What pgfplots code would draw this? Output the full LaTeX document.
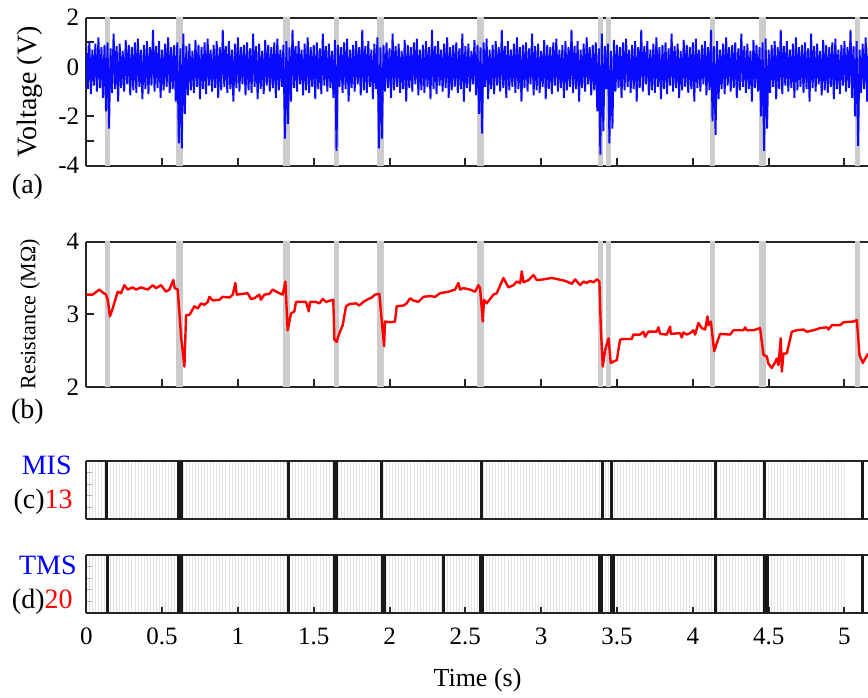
\documentclass[border=0pt]{standalone}
\usepackage{fontspec}
\setmainfont{Liberation Serif}
\usepackage{pgfplots}
\pgfplotsset{compat=1.18}
\definecolor{noiseblue}{RGB}{10,10,255}
\definecolor{resred}{RGB}{255,0,0}
\newcommand\band[2]{\addplot[fill=gray!40, draw=none, forget plot] coordinates {(#1,-100) (#2,-100) (#2,100) (#1,100)} -- cycle;}
\newcommand\allbands{%
\band{0.125}{0.157}\band{0.592}{0.638}\band{1.297}{1.344}\band{1.634}{1.667}%
\band{1.918}{1.964}\band{2.575}{2.623}\band{3.375}{3.408}\band{3.428}{3.461}%
\band{4.114}{4.147}\band{4.437}{4.484}\band{5.071}{5.104}}
\pgfplotsset{
  panel/.style={scale only axis, width=391.2pt, xmin=0, xmax=5.16,
    axis y line*=left, tick align=inside, tick pos=left,
    major tick length=4pt, minor tick length=0pt,
    tick style={line width=1pt, black!85},
    axis line style={line width=1pt, black!85},
    xtick={0,0.5,...,5},
    /pgf/number format/assume math mode=true,
    tick label style={font=\fontsize{12.5}{14}\selectfont},
    anchor=north west},
  raster/.style={height=29pt, ymin=0, ymax=1, ytick={0.2,0.4,0.6,0.8}, yticklabels={},
    ytick style={gray!60, line width=0.5pt}, major tick length=3pt,
    xmajorgrids, xminorgrids, minor x tick num=24,
    grid style={gray!22, line width=0.3pt}}
}
\begin{document}
\begin{tikzpicture}
% (a) voltage
\begin{axis}[panel, at={(43.15pt,-8.85pt)}, height=74pt, ymin=-4, ymax=2,
  ytick={-4,-2,0,2}, extra y ticks={-3,1}, extra y tick labels={}, xticklabels={},
  ylabel={Voltage (V)},
  ylabel style={at={(axis description cs:-0.072,0.5)}, anchor=center, font=\fontsize{14}{16}\selectfont}]
\allbands
\addplot[noiseblue, line width=0.95pt, mark=none, line join=miter, miter limit=1] coordinates {
(0.00,0.85)(0.01,-0.9)(0.02,1.05)(0.03,-1.1)(0.04,0.7)(0.05,-0.75)(0.06,0.95)(0.07,-1.0)(0.08,1.2)(0.09,-0.85)
(0.10,0.8)(0.11,-1.25)(0.12,0.9)(0.13,-1.8)(0.14,1.0)(0.15,-2.5)(0.16,0.75)(0.17,-1.05)(0.18,1.35)(0.19,-0.9)
(0.20,0.85)(0.21,-1.4)(0.22,0.95)(0.23,-0.85)(0.24,0.65)(0.25,-1.0)(0.26,1.1)(0.27,-0.7)(0.28,0.9)(0.29,-1.15)
(0.30,0.8)(0.31,-0.95)(0.32,1.0)(0.33,-1.05)(0.34,1.15)(0.35,-0.8)(0.36,0.7)(0.37,-1.3)(0.38,0.9)(0.39,-0.9)
(0.40,1.05)(0.41,-1.1)(0.42,0.8)(0.43,-0.75)(0.44,1.5)(0.45,-1.0)(0.46,0.85)(0.47,-0.85)(0.48,1.05)(0.49,-1.25)
(0.50,0.7)(0.51,-0.95)(0.52,0.95)(0.53,-0.8)(0.54,1.2)(0.55,-1.05)(0.56,0.8)(0.57,-0.9)(0.58,0.9)(0.59,-1.4)
(0.60,1.0)(0.61,-3.1)(0.62,0.75)(0.63,-3.3)(0.64,1.35)(0.65,-1.9)(0.66,0.85)(0.67,-1.15)(0.68,0.95)(0.69,-0.95)
(0.70,0.65)(0.71,-1.05)(0.72,1.1)(0.73,-0.8)(0.74,0.9)(0.75,-1.3)(0.76,0.8)(0.77,-0.9)(0.78,1.0)(0.79,-1.1)
(0.80,1.15)(0.81,-0.75)(0.82,0.7)(0.83,-1.0)(0.84,0.9)(0.85,-0.85)(0.86,1.05)(0.87,-1.25)(0.88,0.8)(0.89,-0.95)
(0.90,1.5)(0.91,-0.8)(0.92,0.85)(0.93,-1.05)(0.94,1.05)(0.95,-0.9)(0.96,0.7)(0.97,-1.4)(0.98,0.95)(0.99,-0.85)
(1.00,1.2)(1.01,-1.0)(1.02,0.8)(1.03,-0.7)(1.04,0.9)(1.05,-1.15)(1.06,1.0)(1.07,-0.95)(1.08,0.75)(1.09,-1.05)
(1.10,1.35)(1.11,-0.8)(1.12,0.85)(1.13,-1.3)(1.14,0.95)(1.15,-0.9)(1.16,0.65)(1.17,-1.1)(1.18,1.1)(1.19,-0.75)
(1.20,0.9)(1.21,-1.0)(1.22,0.8)(1.23,-0.85)(1.24,1.0)(1.25,-1.25)(1.26,1.15)(1.27,-0.95)(1.28,0.7)(1.29,-0.8)
(1.30,0.9)(1.31,-2.9)(1.32,1.05)(1.33,-2.3)(1.34,0.8)(1.35,-1.4)(1.36,1.5)(1.37,-0.85)(1.38,0.85)(1.39,-1.0)
(1.40,1.05)(1.41,-0.7)(1.42,0.7)(1.43,-1.15)(1.44,0.95)(1.45,-0.95)(1.46,1.2)(1.47,-1.05)(1.48,0.8)(1.49,-0.8)
(1.50,0.9)(1.51,-1.3)(1.52,1.0)(1.53,-0.9)(1.54,0.75)(1.55,-1.1)(1.56,1.35)(1.57,-0.75)(1.58,0.85)(1.59,-1.0)
(1.60,0.95)(1.61,-0.85)(1.62,0.65)(1.63,-1.25)(1.64,1.1)(1.65,-3.4)(1.66,0.9)(1.67,-0.8)(1.68,0.8)(1.69,-1.05)
(1.70,1.0)(1.71,-0.9)(1.72,1.15)(1.73,-1.4)(1.74,0.7)(1.75,-0.85)(1.76,0.9)(1.77,-1.0)(1.78,1.05)(1.79,-0.7)
(1.80,0.8)(1.81,-1.15)(1.82,1.5)(1.83,-0.95)(1.84,0.85)(1.85,-1.05)(1.86,1.05)(1.87,-0.8)(1.88,0.7)(1.89,-1.3)
(1.90,0.95)(1.91,-0.9)(1.92,1.2)(1.93,-3.3)(1.94,0.8)(1.95,-2.9)(1.96,0.9)(1.97,-1.0)(1.98,1.0)(1.99,-0.85)
(2.00,0.75)(2.01,-1.25)(2.02,1.35)(2.03,-0.95)(2.04,0.85)(2.05,-0.8)(2.06,0.95)(2.07,-1.05)(2.08,0.65)(2.09,-0.9)
(2.10,1.1)(2.11,-1.4)(2.12,0.9)(2.13,-0.85)(2.14,0.8)(2.15,-1.0)(2.16,1.0)(2.17,-0.7)(2.18,1.15)(2.19,-1.15)
(2.20,0.7)(2.21,-0.95)(2.22,0.9)(2.23,-1.05)(2.24,1.05)(2.25,-0.8)(2.26,0.8)(2.27,-1.3)(2.28,1.5)(2.29,-0.9)
(2.30,0.85)(2.31,-1.1)(2.32,1.05)(2.33,-0.75)(2.34,0.7)(2.35,-1.0)(2.36,0.95)(2.37,-0.85)(2.38,1.2)(2.39,-1.25)
(2.40,0.8)(2.41,-0.95)(2.42,0.9)(2.43,-0.8)(2.44,1.0)(2.45,-1.05)(2.46,0.75)(2.47,-0.9)(2.48,1.35)(2.49,-1.4)
(2.50,0.85)(2.51,-0.85)(2.52,0.95)(2.53,-1.0)(2.54,0.65)(2.55,-0.7)(2.56,1.1)(2.57,-1.15)(2.58,0.9)(2.59,-1.9)
(2.60,0.8)(2.61,-2.7)(2.62,1.0)(2.63,-0.8)(2.64,1.15)(2.65,-1.3)(2.66,0.7)(2.67,-0.9)(2.68,0.9)(2.69,-1.1)
(2.70,1.05)(2.71,-0.75)(2.72,0.8)(2.73,-1.0)(2.74,1.5)(2.75,-0.85)(2.76,0.85)(2.77,-1.25)(2.78,1.05)(2.79,-0.95)
(2.80,0.7)(2.81,-0.8)(2.82,0.95)(2.83,-1.05)(2.84,1.2)(2.85,-0.9)(2.86,0.8)(2.87,-1.4)(2.88,0.9)(2.89,-0.85)
(2.90,1.0)(2.91,-1.0)(2.92,0.75)(2.93,-0.7)(2.94,1.35)(2.95,-1.15)(2.96,0.85)(2.97,-0.95)(2.98,0.95)(2.99,-1.05)
(3.00,0.65)(3.01,-0.8)(3.02,1.1)(3.03,-1.3)(3.04,0.9)(3.05,-0.9)(3.06,0.8)(3.07,-1.1)(3.08,1.0)(3.09,-0.75)
(3.10,1.15)(3.11,-1.0)(3.12,0.7)(3.13,-0.85)(3.14,0.9)(3.15,-1.25)(3.16,1.05)(3.17,-0.95)(3.18,0.8)(3.19,-0.8)
(3.20,1.5)(3.21,-1.05)(3.22,0.85)(3.23,-0.9)(3.24,1.05)(3.25,-1.4)(3.26,0.7)(3.27,-0.85)(3.28,0.95)(3.29,-1.0)
(3.30,1.2)(3.31,-0.7)(3.32,0.8)(3.33,-1.15)(3.34,0.9)(3.35,-0.95)(3.36,1.0)(3.37,-1.8)(3.38,0.75)(3.39,-3.55)
(3.40,1.35)(3.41,-2.6)(3.42,0.85)(3.43,-0.9)(3.44,0.95)(3.45,-3.1)(3.46,0.65)(3.47,-2.5)(3.48,1.1)(3.49,-1.0)
(3.50,0.9)(3.51,-0.85)(3.52,0.8)(3.53,-1.25)(3.54,1.0)(3.55,-0.95)(3.56,1.15)(3.57,-0.8)(3.58,0.7)(3.59,-1.05)
(3.60,0.9)(3.61,-0.9)(3.62,1.05)(3.63,-1.4)(3.64,0.8)(3.65,-0.85)(3.66,1.5)(3.67,-1.0)(3.68,0.85)(3.69,-0.7)
(3.70,1.05)(3.71,-1.15)(3.72,0.7)(3.73,-0.95)(3.74,0.95)(3.75,-1.05)(3.76,1.2)(3.77,-0.8)(3.78,0.8)(3.79,-1.3)
(3.80,0.9)(3.81,-0.9)(3.82,1.0)(3.83,-1.1)(3.84,0.75)(3.85,-0.75)(3.86,1.35)(3.87,-1.0)(3.88,0.85)(3.89,-0.85)
(3.90,0.95)(3.91,-1.25)(3.92,0.65)(3.93,-0.95)(3.94,1.1)(3.95,-0.8)(3.96,0.9)(3.97,-1.05)(3.98,0.8)(3.99,-0.9)
(4.00,1.0)(4.01,-1.4)(4.02,1.15)(4.03,-0.85)(4.04,0.7)(4.05,-1.0)(4.06,0.9)(4.07,-0.7)(4.08,1.05)(4.09,-1.15)
(4.10,0.8)(4.11,-0.95)(4.12,1.5)(4.13,-2.2)(4.14,0.85)(4.15,-2.75)(4.16,1.05)(4.17,-1.3)(4.18,0.7)(4.19,-0.9)
(4.20,0.95)(4.21,-1.1)(4.22,1.2)(4.23,-0.75)(4.24,0.8)(4.25,-1.0)(4.26,0.9)(4.27,-0.85)(4.28,1.0)(4.29,-1.25)
(4.30,0.75)(4.31,-0.95)(4.32,1.35)(4.33,-0.8)(4.34,0.85)(4.35,-1.05)(4.36,0.95)(4.37,-0.9)(4.38,0.65)(4.39,-1.4)
(4.40,1.1)(4.41,-0.85)(4.42,0.9)(4.43,-1.0)(4.44,0.8)(4.45,-2.0)(4.46,1.0)(4.47,-3.4)(4.48,1.15)(4.49,-2.5)
(4.50,0.7)(4.51,-1.05)(4.52,0.9)(4.53,-0.8)(4.54,1.05)(4.55,-1.3)(4.56,0.8)(4.57,-0.9)(4.58,1.5)(4.59,-1.1)
(4.60,0.85)(4.61,-0.75)(4.62,1.05)(4.63,-1.0)(4.64,0.7)(4.65,-0.85)(4.66,0.95)(4.67,-1.25)(4.68,1.2)(4.69,-0.95)
(4.70,0.8)(4.71,-0.8)(4.72,0.9)(4.73,-1.05)(4.74,1.0)(4.75,-0.9)(4.76,0.75)(4.77,-1.4)(4.78,1.35)(4.79,-0.85)
(4.80,0.85)(4.81,-1.0)(4.82,0.95)(4.83,-0.7)(4.84,0.65)(4.85,-1.15)(4.86,1.1)(4.87,-0.95)(4.88,0.9)(4.89,-1.05)
(4.90,0.8)(4.91,-0.8)(4.92,1.0)(4.93,-1.3)(4.94,1.15)(4.95,-0.9)(4.96,0.7)(4.97,-1.1)(4.98,0.9)(4.99,-0.75)
(5.00,1.05)(5.01,-1.0)(5.02,0.8)(5.03,-0.85)(5.04,1.5)(5.05,-1.25)(5.06,0.85)(5.07,-2.0)(5.08,1.05)(5.09,-3.2)
(5.10,0.7)(5.11,-1.05)(5.12,0.95)(5.13,-0.9)(5.14,1.2)(5.15,-1.4)(5.16,0.8)
};
\end{axis}
% (b) resistance
\begin{axis}[panel, at={(43.15pt,-120.85pt)}, height=72.65pt, ymin=2, ymax=4,
  ytick={2,3,4}, xticklabels={},
  ylabel={Resistance (MΩ)},
  ylabel style={at={(axis description cs:-0.072,0.5)}, anchor=center, font=\fontsize{11}{13}\selectfont}]
\allbands
\addplot[resred, line width=1.2pt, mark=none, line join=round] coordinates {
(0.000,3.27)(0.042,3.27)(0.086,3.34)(0.108,3.30)(0.130,3.27)(0.141,3.20)(0.156,2.97)(0.174,3.08)
(0.207,3.31)(0.229,3.29)(0.251,3.40)(0.273,3.34)(0.306,3.37)(0.328,3.34)(0.361,3.37)(0.405,3.34)
(0.438,3.40)(0.460,3.36)(0.493,3.40)(0.526,3.31)(0.548,3.34)(0.574,3.47)(0.583,3.36)(0.603,3.34)
(0.625,2.69)(0.647,2.28)(0.658,2.99)(0.680,2.99)(0.713,3.11)(0.735,3.08)(0.757,3.15)(0.779,3.13)
(0.801,3.17)(0.812,3.24)(0.834,3.19)(0.878,3.20)(0.900,3.24)(0.944,3.23)(0.966,3.27)(0.983,3.43)
(0.992,3.27)(1.031,3.28)(1.064,3.29)(1.086,3.21)(1.108,3.22)(1.141,3.27)(1.152,3.20)(1.174,3.27)
(1.207,3.28)(1.229,3.34)(1.262,3.30)(1.295,3.27)(1.313,3.45)(1.328,2.78)(1.350,3.01)(1.372,3.04)
(1.383,3.17)(1.449,3.17)(1.467,3.04)(1.476,3.17)(1.515,3.17)(1.537,3.15)(1.559,3.21)(1.581,3.17)
(1.629,3.20)(1.636,2.65)(1.651,2.62)(1.669,2.74)(1.691,2.85)(1.713,3.11)(1.735,3.14)(1.779,3.15)
(1.801,3.12)(1.827,3.17)(1.860,3.21)(1.882,3.23)(1.904,3.27)(1.933,3.28)(1.948,2.92)(1.964,2.56)
(1.970,2.90)(2.003,2.89)(2.036,2.90)(2.047,3.11)(2.091,3.12)(2.113,3.15)(2.135,3.22)(2.157,3.19)
(2.190,3.17)(2.223,3.24)(2.267,3.25)(2.300,3.24)(2.333,3.29)(2.388,3.31)(2.432,3.34)(2.454,3.43)
(2.465,3.34)(2.487,3.36)(2.531,3.34)(2.564,3.31)(2.586,3.40)(2.597,3.36)(2.615,2.90)(2.623,3.20)
(2.641,3.15)(2.685,3.27)(2.707,3.29)(2.751,3.50)(2.784,3.37)(2.817,3.40)(2.839,3.45)(2.861,3.43)
(2.872,3.59)(2.883,3.44)(2.916,3.47)(2.949,3.54)(2.971,3.47)(3.015,3.48)(3.070,3.50)(3.114,3.48)
(3.158,3.46)(3.202,3.42)(3.224,3.48)(3.257,3.40)(3.279,3.45)(3.301,3.43)(3.323,3.46)(3.345,3.44)
(3.367,3.48)(3.384,3.45)(3.393,2.83)(3.406,2.28)(3.422,2.51)(3.444,2.67)(3.459,2.33)(3.499,2.37)
(3.520,2.65)(3.542,2.66)(3.597,2.66)(3.608,2.72)(3.652,2.72)(3.674,2.76)(3.685,2.69)(3.707,2.76)
(3.762,2.76)(3.773,2.82)(3.784,2.73)(3.828,2.72)(3.850,2.83)(3.855,2.73)(3.916,2.74)(3.927,2.68)
(3.938,2.75)(3.960,2.72)(3.982,2.74)(4.004,2.78)(4.015,2.72)(4.037,2.88)(4.059,2.81)(4.081,2.79)
(4.097,2.97)(4.103,2.85)(4.119,2.90)(4.141,2.49)(4.158,2.60)(4.180,2.73)(4.246,2.72)(4.268,2.78)
(4.334,2.78)(4.345,2.82)(4.356,2.78)(4.400,2.78)(4.444,2.81)(4.466,2.44)(4.488,2.42)(4.499,2.32)
(4.521,2.26)(4.543,2.34)(4.554,2.39)(4.565,2.30)(4.580,2.67)(4.587,2.21)(4.598,2.46)(4.620,2.46)
(4.653,2.76)(4.686,2.78)(4.730,2.79)(4.752,2.76)(4.796,2.78)(4.840,2.81)(4.884,2.82)(4.895,2.79)
(4.917,2.85)(4.972,2.85)(4.994,2.89)(5.060,2.90)(5.082,2.92)(5.099,2.44)(5.121,2.33)(5.156,2.46)
};
\end{axis}
% (c) MIS raster
\begin{axis}[panel, raster, at={(43.15pt,-230.5pt)}, xticklabels={}, xtick style={draw=none}]
\addplot[ycomb, black!90, line width=1.4pt, mark=none] coordinates {
(0.135,1)(0.610,1)(0.627,1)(1.332,1)(1.637,1)(1.652,1)(1.949,1)(2.604,1)(3.404,1)(3.466,1)(4.147,1)(4.472,1)(5.117,1)
};
\end{axis}
% (d) TMS raster
\begin{axis}[panel, raster, at={(43.15pt,-277.5pt)},
  xticklabel style={yshift=-4pt},
  xlabel={Time (s)},
  xlabel style={at={(axis description cs:0.5,0)}, anchor=center, yshift=-33.5pt, font=\fontsize{13}{15}\selectfont}]
\addplot[ycomb, black!90, line width=1.4pt, mark=none] coordinates {
(0.139,1)(0.609,1)(0.627,1)(1.332,1)(1.637,1)(1.652,1)(1.950,1)(1.968,1)(2.355,1)(2.600,1)
(2.615,1)(3.383,1)(3.392,1)(3.400,1)(3.465,1)(3.478,1)(4.147,1)(4.472,1)(4.490,1)(5.121,1)
};
\end{axis}
% panel letters and counts
\node[font=\fontsize{14}{16}\selectfont, inner sep=0pt] at (13.75pt,-93.5pt) {(a)};
\node[font=\fontsize{14}{16}\selectfont, inner sep=0pt] at (13.75pt,-206pt) {(b)};
\node[font=\fontsize{14}{16}\selectfont, inner sep=0pt, anchor=east, text=blue] at (36pt,-232.5pt) {MIS};
\node[font=\fontsize{14}{16}\selectfont, inner sep=0pt, anchor=east] at (36.5pt,-250.8pt) {(c)\textcolor{red}{13}};
\node[font=\fontsize{14}{16}\selectfont, inner sep=0pt, anchor=east, text=blue] at (38.5pt,-282.5pt) {TMS};
\node[font=\fontsize{14}{16}\selectfont, inner sep=0pt, anchor=east] at (36.5pt,-301pt) {(d)\textcolor{red}{20}};
\pgfresetboundingbox
\path[use as bounding box] (0pt,0pt) rectangle (434pt,-348.5pt);
\end{tikzpicture}
\end{document}
